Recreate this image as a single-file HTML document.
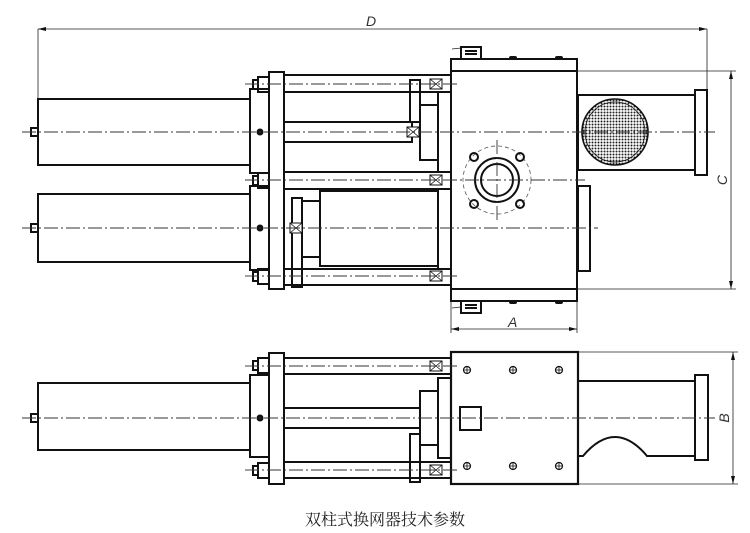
<!DOCTYPE html>
<html><head><meta charset="utf-8"><style>
html,body{margin:0;padding:0;background:#fff;}
svg{display:block;}
.k{fill:none;stroke:#111;stroke-width:2}
.t{fill:none;stroke:#222;stroke-width:0.8}
.c{fill:none;stroke:#333;stroke-width:0.9;stroke-dasharray:14 3 2 3}
.d{fill:none;stroke:#555;stroke-width:0.8;stroke-dasharray:4 3}
</style></head><body>
<svg width="750" height="533" viewBox="0 0 750 533" xmlns="http://www.w3.org/2000/svg">
<defs>
<pattern id="dots" width="3" height="3" patternUnits="userSpaceOnUse"><circle cx="1.5" cy="1.5" r="1" fill="#222"/></pattern>
<g id="bx"><rect x="-6" y="-5" width="12" height="10" fill="#fff" stroke="#111" stroke-width="1"/><path d="M-6 -5L6 5M6 -5L-6 5" stroke="#111" stroke-width="0.8"/></g>
<g id="bolt"><circle r="3.5" fill="#fff" stroke="#111" stroke-width="1.2"/><path d="M-3.5 0H3.5M0 -3.5V3.5" stroke="#111" stroke-width="0.8"/></g>
</defs>

<line class="t" x1="38" y1="29" x2="707" y2="29"/>
<line class="t" x1="38" y1="29" x2="38" y2="99"/>
<line class="t" x1="707" y1="29" x2="707" y2="90"/>
<path d="M38 29l8 -2v4z M707 29l-8 -2v4z" fill="#111"/>
<text x="366" y="26" font-family="Liberation Sans, sans-serif" font-style="italic" font-size="14" fill="#333">D</text>

<rect class="k" x="38" y="99" width="212" height="66"/>
<rect class="k" x="38" y="194" width="212" height="68"/>
<rect class="k" x="31" y="128" width="7" height="8"/>
<rect class="k" x="31" y="224" width="7" height="8"/>
<rect class="k" x="250" y="89" width="19" height="84"/>
<rect class="k" x="250" y="186" width="19" height="84"/>
<rect class="k" x="269" y="72" width="15" height="217"/>
<rect class="k" x="258" y="77" width="11" height="15"/><rect class="k" x="253" y="80" width="5" height="9"/>
<rect class="k" x="258" y="173" width="11" height="15"/><rect class="k" x="253" y="176" width="5" height="9"/>
<rect class="k" x="258" y="269" width="11" height="15"/><rect class="k" x="253" y="272" width="5" height="9"/>
<circle cx="260" cy="132" r="3.5" fill="#111"/><circle cx="260" cy="228" r="3.5" fill="#111"/>
<rect class="k" x="284" y="75" width="167" height="17"/>
<rect class="k" x="284" y="172" width="167" height="17"/>
<rect class="k" x="284" y="269" width="167" height="16"/>
<rect class="k" x="284" y="122" width="128" height="20"/>
<rect class="k" x="410" y="80" width="10" height="42"/>
<rect class="k" x="420" y="105" width="18" height="55"/>
<line class="k" x1="438" y1="92" x2="438" y2="172"/>
<rect class="k" x="320" y="191" width="118" height="75"/>
<rect class="k" x="302" y="201" width="18" height="56"/>
<rect class="k" x="292" y="198" width="10" height="89"/>
<line class="k" x1="438" y1="266" x2="438" y2="269"/>
<use href="#bx" x="436" y="84"/><use href="#bx" x="413" y="132"/><use href="#bx" x="436" y="180"/><use href="#bx" x="296" y="228"/><use href="#bx" x="436" y="276"/>
<rect class="k" x="451" y="59" width="126" height="12"/>
<rect class="k" x="451" y="71" width="126" height="218"/>
<rect class="k" x="451" y="289" width="126" height="12"/>
<rect class="k" x="461" y="47" width="20" height="12"/>
<path d="M465 51h12M465 54h12" stroke="#111" stroke-width="2"/>
<rect class="k" x="461" y="301" width="20" height="12"/>
<path d="M465 305h12M465 308h12" stroke="#111" stroke-width="2"/>
<line class="t" x1="452" y1="49" x2="461" y2="48"/><line class="t" x1="452" y1="308" x2="461" y2="307"/>
<rect x="509" y="56" width="8" height="4" rx="2" fill="#111"/><rect x="555" y="56" width="8" height="4" rx="2" fill="#111"/>
<rect x="509" y="300" width="8" height="4" rx="2" fill="#111"/><rect x="555" y="300" width="8" height="4" rx="2" fill="#111"/>
<circle class="d" cx="497" cy="180" r="34"/>
<circle class="k" cx="497" cy="180" r="22"/>
<circle class="k" cx="497" cy="180" r="16"/>
<circle class="k" cx="474" cy="157" r="4"/><circle class="k" cx="520" cy="157" r="4"/>
<circle class="k" cx="474" cy="204" r="4"/><circle class="k" cx="520" cy="204" r="4"/>
<line class="c" x1="497" y1="140" x2="497" y2="220"/>
<rect class="k" x="578" y="95" width="117" height="75"/>
<rect class="k" x="695" y="90" width="12" height="85"/>
<circle cx="615" cy="132" r="33" fill="url(#dots)" stroke="#111" stroke-width="1.6"/>
<circle cx="615" cy="132" r="30" fill="none" stroke="#111" stroke-width="0.8"/>
<rect class="k" x="578" y="186" width="12" height="85"/>
<line class="t" x1="578" y1="71" x2="736" y2="71"/>
<line class="t" x1="578" y1="289" x2="736" y2="289"/>
<line class="t" x1="731" y1="71" x2="731" y2="289"/>
<path d="M731 71l-2 8h4z M731 289l-2 -8h4z" fill="#111"/>
<text x="0" y="0" transform="translate(727,180) rotate(-90)" text-anchor="middle" font-family="Liberation Sans, sans-serif" font-style="italic" font-size="14" fill="#333">C</text>
<line class="t" x1="451" y1="301" x2="451" y2="333"/>
<line class="t" x1="577" y1="301" x2="577" y2="333"/>
<line class="t" x1="451" y1="329" x2="577" y2="329"/>
<path d="M451 329l8 -2v4z M577 329l-8 -2v4z" fill="#111"/>
<text x="508" y="327" font-family="Liberation Sans, sans-serif" font-style="italic" font-size="14" fill="#333">A</text>
<line class="c" x1="22" y1="132" x2="715" y2="132"/>
<line class="c" x1="22" y1="228" x2="598" y2="228"/>
<line class="c" x1="245" y1="84" x2="460" y2="84"/>
<line class="c" x1="245" y1="180" x2="585" y2="180"/>
<line class="c" x1="245" y1="276" x2="460" y2="276"/>

<rect class="k" x="38" y="383" width="212" height="67"/>
<rect class="k" x="31" y="414" width="7" height="8"/>
<rect class="k" x="250" y="375" width="19" height="82"/>
<rect class="k" x="269" y="353" width="15" height="131"/>
<rect class="k" x="258" y="358" width="11" height="15"/><rect class="k" x="253" y="361" width="5" height="9"/>
<rect class="k" x="258" y="463" width="11" height="15"/><rect class="k" x="253" y="466" width="5" height="9"/>
<circle cx="260" cy="418" r="3.5" fill="#111"/>
<rect class="k" x="284" y="358" width="167" height="16"/>
<rect class="k" x="284" y="462" width="167" height="16"/>
<rect class="k" x="284" y="408" width="136" height="20"/>
<rect class="k" x="420" y="391" width="18" height="54"/>
<rect class="k" x="438" y="378" width="13" height="80"/>
<rect class="k" x="410" y="434" width="10" height="48"/>
<use href="#bx" x="436" y="366"/><use href="#bx" x="436" y="470"/>
<rect x="451" y="352" width="127" height="132" fill="#fff" stroke="#111" stroke-width="2.2"/>
<use href="#bolt" x="467" y="370"/><use href="#bolt" x="513" y="370"/><use href="#bolt" x="559" y="370"/>
<use href="#bolt" x="467" y="466"/><use href="#bolt" x="513" y="466"/><use href="#bolt" x="559" y="466"/>
<rect class="k" x="460" y="407" width="21" height="23"/>
<path class="k" d="M578 381H695 M578 456H583 Q615 418 647 456H695"/>
<rect class="k" x="695" y="375" width="13" height="85"/>
<line class="t" x1="578" y1="352" x2="738" y2="352"/>
<line class="t" x1="578" y1="484" x2="738" y2="484"/>
<line class="t" x1="733" y1="352" x2="733" y2="484"/>
<path d="M733 352l-2 8h4z M733 484l-2 -8h4z" fill="#111"/>
<text x="0" y="0" transform="translate(729,418) rotate(-90)" text-anchor="middle" font-family="Liberation Sans, sans-serif" font-style="italic" font-size="14" fill="#333">B</text>
<line class="c" x1="22" y1="418" x2="715" y2="418"/>
<line class="c" x1="245" y1="366" x2="460" y2="366"/>
<line class="c" x1="245" y1="470" x2="460" y2="470"/>

<text x="385" y="525" text-anchor="middle" font-family="Noto Serif CJK SC, serif" font-size="16" fill="#222">双柱式换网器技术参数</text>
</svg>
</body></html>
